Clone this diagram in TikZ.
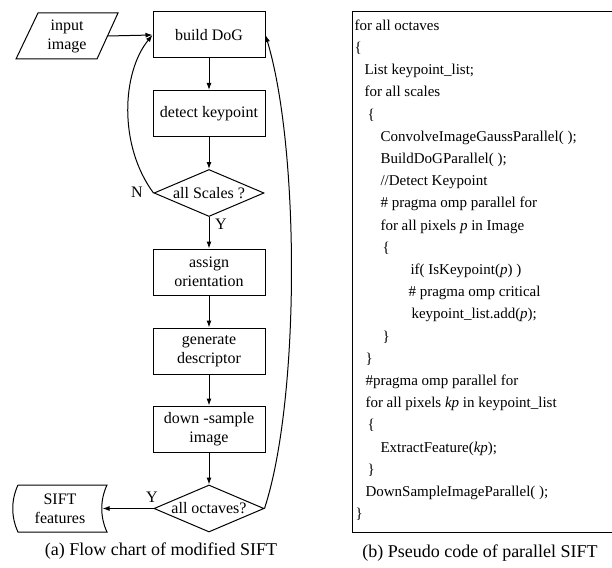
\documentclass[tikz,border=0pt]{standalone}
\usepackage{fontspec}
\setmainfont{Liberation Serif}
\usetikzlibrary{arrows.meta,shapes.geometric}
\begin{document}
\begin{tikzpicture}[x=1pt,y=-1pt,
  line width=1pt,
  every node/.style={inner sep=0pt},
  box/.style={draw, minimum width=112pt, minimum height=46pt, align=center, font=\fontsize{16}{19}\selectfont},
  dec/.style={draw, diamond, minimum width=110pt, minimum height=47pt},
  lbl/.style={font=\fontsize{16}{19}\selectfont, align=center},
  arr/.style={-{Latex[length=7pt,width=5pt]}},
  code/.style={anchor=mid west, font=\fontsize{15}{18}\selectfont},
  captext/.style={font=\fontsize{18}{21}\selectfont}]
\useasboundingbox (0,0) rectangle (612,567);

% ---- flow chart ----
\node[box] (dog) at (209,35) {build DoG};
\node[box] (det) at (209,113.5) {detect keypoint};
\node[dec, label={[lbl]center:all Scales ?}] (sc) at (209,193) {};
\node[box] (ori) at (209,272) {assign\\orientation};
\node[box] (desc) at (209,351) {generate\\descriptor};
\node[box] (down) at (209,429) {down -sample\\image};
\node[dec, label={[lbl]center:all octaves?}] (oc) at (209,508.5) {};

% input image (parallelogram)
\node[lbl] (in) at (67,36) {input\\image};
\draw (38,13) -- (118,13) -- (97,59) -- (16,59) -- cycle;
\coordinate (inR) at (107.5,36);

% SIFT features (stored data)
\node[lbl] (sf) at (60,508.5) {SIFT\\features};
\draw (18,485) -- (107,485) .. controls (100,500) and (100,517) .. (107,532)
      -- (18,532) .. controls (11,517) and (11,500) .. (18,485);
\coordinate (sfR) at (102.5,508.5);

\draw[arr] (inR) -- (dog.west);
\draw[arr] (dog) -- (det);
\draw[arr] (det) -- (sc);
\draw[arr] (sc) -- (ori);
\draw[arr] (ori) -- (desc);
\draw[arr] (desc) -- (down);
\draw[arr] (down) -- (oc);
\draw[arr] (oc.west) -- (sfR);
\draw[arr] (sc.west) .. controls (118,145) and (122,72) .. (dog.west);
\draw[arr] (oc.east) .. controls (300,400) and (300,150) .. (dog.east);

\node[lbl] (nN) at (137,192) {N};
\node[lbl] (nY1) at (221,224) {Y};
\node[lbl] (nY2) at (152,497) {Y};

\node[captext] (capa) at (161,551) {(a) Flow chart of modified SIFT};

% ---- pseudo code ----
\draw (612,12) -- (352,12) -- (352,532) -- (612,532);
\node[code] (l0)  at (354,28.0)  {for all octaves};
\node[code] (l1)  at (354,50.2)  {\{};
\node[code] (l2)  at (364,72.4)  {List keypoint\_list;};
\node[code] (l3)  at (364,94.6)  {for all scales};
\node[code] (l4)  at (367,116.8) {\{};
\node[code] (l5)  at (380,139.0) {ConvolveImageGaussParallel( );};
\node[code] (l6)  at (380,161.2) {BuildDoGParallel( );};
\node[code] (l7)  at (380,183.4) {//Detect Keypoint};
\node[code] (l8)  at (380,205.6) {\# pragma omp parallel for};
\node[code] (l9)  at (380,227.8) {for all pixels \textit{p} in Image};
\node[code] (l10) at (382,250.0) {\{};
\node[code] (l11) at (410,272.2) {if( IsKeypoint(\textit{p}) )};
\node[code] (l12) at (408,294.4) {\# pragma omp critical};
\node[code] (l13) at (411,316.6) {keypoint\_list.add(\textit{p});};
\node[code] (l14) at (382,338.8) {\}};
\node[code] (l15) at (365,361.0) {\}};
\node[code] (l16) at (365,383.2) {\#pragma omp parallel for};
\node[code] (l17) at (365,405.4) {for all pixels \textit{kp} in keypoint\_list};
\node[code] (l18) at (367,427.6) {\{};
\node[code] (l19) at (380,449.8) {ExtractFeature(\textit{kp});};
\node[code] (l20) at (367,472.0) {\}};
\node[code] (l21) at (365,494.2) {DownSampleImageParallel( );};
\node[code] (l22) at (355,516.4) {\}};

\node[captext] (capb) at (480,553) {(b) Pseudo code of parallel SIFT};
\end{tikzpicture}
\end{document}
